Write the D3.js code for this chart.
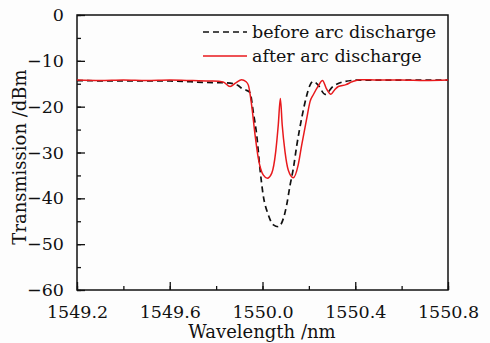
<!DOCTYPE html>
<html>
<head>
<meta charset="utf-8">
<script src="https://cdn.jsdelivr.net/npm/d3@7"></script>
<style>
  body { margin: 0; background: #fdfdfd; }
  svg text { font-family: "DejaVu Serif", serif; fill: #111; }
</style>
</head>
<body>
<svg id="chart" width="490" height="343"></svg>
<script>
// spectrum before arc discharge (wavelength nm, transmission dBm)
const beforeWl = [1549.2, 1549.4, 1549.6, 1549.75, 1549.84, 1549.874, 1549.895, 1549.91, 1549.93, 1549.946,
  1549.96, 1549.975, 1549.989, 1550.003, 1550.025, 1550.047, 1550.068, 1550.09, 1550.104, 1550.119,
  1550.133, 1550.148, 1550.169, 1550.191, 1550.205, 1550.219, 1550.24, 1550.27, 1550.304, 1550.356,
  1550.42, 1550.6, 1550.8];
const beforeDb = [-14.3, -14.4, -14.4, -14.7, -14.8, -15.0, -15.4, -16.0, -16.4, -16.9,
  -21.1, -26.2, -33.5, -39.3, -43.6, -45.8, -46.2, -44.4, -41.5, -37.1,
  -33.5, -28.4, -22.5, -17.5, -15.3, -14.5, -15.3, -17.3, -15.6, -14.5,
  -14.2, -14.2, -14.2];

// spectrum after arc discharge
const afterWl = [1549.2, 1549.3, 1549.4, 1549.5, 1549.6, 1549.7, 1549.78, 1549.83, 1549.86, 1549.885,
  1549.91, 1549.928, 1549.939, 1549.953, 1549.968, 1549.982, 1550.003, 1550.021, 1550.04, 1550.057,
  1550.068, 1550.077, 1550.085, 1550.097, 1550.111, 1550.133, 1550.154, 1550.169, 1550.191, 1550.205,
  1550.219, 1550.24, 1550.259, 1550.275, 1550.295, 1550.31, 1550.327, 1550.36, 1550.385, 1550.42,
  1550.5, 1550.6, 1550.7, 1550.8];
const afterDb = [-14.2, -14.3, -14.2, -14.3, -14.2, -14.3, -14.4, -14.6, -15.6, -14.8,
  -14.1, -14.5, -15.3, -19.6, -26.2, -31.3, -34.9, -35.6, -34.5, -29.8,
  -24.0, -18.2, -24.0, -29.8, -33.8, -35.5, -32.7, -28.4, -22.5, -18.9,
  -17.4, -15.5, -14.3, -16.0, -17.3, -16.4, -15.6, -15.2, -14.6, -14.1,
  -14.2, -14.2, -14.3, -14.2];

const xTicks = [1549.2, 1549.6, 1550.0, 1550.4, 1550.8];
const yTicks = [0, -10, -20, -30, -40, -50, -60];
const legendLabels = ["before arc discharge", "after arc discharge"];

const margin = { left: 77, right: 42, top: 15, bottom: 53 };
const width = 490, height = 343;

const svg = d3.select("#chart");

const x = d3.scaleLinear().domain([1549.2, 1550.8]).range([margin.left, width - margin.right]);
const y = d3.scaleLinear().domain([-60, 0]).range([height - margin.bottom, margin.top]);

// frame
svg.append("rect")
  .attr("x", margin.left).attr("y", margin.top)
  .attr("width", x.range()[1] - margin.left)
  .attr("height", y.range()[0] - margin.top)
  .attr("fill", "none").attr("stroke", "#111").attr("stroke-width", 1.5);

// bottom axis, ticks inward
const xMinor = d3.range(1549.2, 1550.81, 0.2);
svg.append("g")
  .attr("transform", "translate(0," + y(-60) + ")")
  .call(d3.axisBottom(x).tickValues(xMinor).tickSize(-4).tickFormat(""))
  .call(g => g.select(".domain").remove())
  .call(g => g.selectAll("line").attr("stroke", "#111").attr("stroke-width", 1.3));
svg.append("g")
  .attr("transform", "translate(0," + y(-60) + ")")
  .call(d3.axisBottom(x).tickValues(xTicks).tickSize(-8).tickPadding(16).tickFormat(d3.format(".1f")))
  .call(g => g.select(".domain").remove())
  .call(g => g.selectAll("line").attr("stroke", "#111").attr("stroke-width", 1.3))
  .call(g => g.selectAll("text").attr("font-size", 17.5).attr("font-family", "DejaVu Serif").attr("fill", "#111"));

// left axis
const yMinor = d3.range(-60, 0.1, 5);
svg.append("g")
  .attr("transform", "translate(" + margin.left + ",0)")
  .call(d3.axisLeft(y).tickValues(yMinor).tickSize(-4).tickFormat(""))
  .call(g => g.select(".domain").remove())
  .call(g => g.selectAll("line").attr("stroke", "#111").attr("stroke-width", 1.3));
svg.append("g")
  .attr("transform", "translate(" + margin.left + ",0)")
  .call(d3.axisLeft(y).tickValues(yTicks).tickSize(-8).tickPadding(13).tickFormat(d => d3.format("")(d).replace("-", "\u2212")))
  .call(g => g.select(".domain").remove())
  .call(g => g.selectAll("line").attr("stroke", "#111").attr("stroke-width", 1.3))
  .call(g => g.selectAll("text").attr("font-size", 17.5).attr("font-family", "DejaVu Serif").attr("fill", "#111"));

// axis titles
svg.append("text")
  .attr("x", 262).attr("y", 338)
  .attr("text-anchor", "middle").attr("font-size", 18)
  .text("Wavelength /nm");
svg.append("text")
  .attr("transform", "translate(26,157) rotate(-90)")
  .attr("text-anchor", "middle").attr("font-size", 18)
  .text("Transmission /dBm");

// curves
const line = d3.line()
  .x(d => x(d[0])).y(d => y(d[1]))
  .curve(d3.curveMonotoneX);

const plot = svg.append("g");
plot.append("path")
  .datum(beforeWl.map((w, i) => [w, beforeDb[i]]))
  .attr("d", line)
  .attr("fill", "none").attr("stroke", "#111")
  .attr("stroke-width", 1.7).attr("stroke-dasharray", "6,4");
plot.append("path")
  .datum(afterWl.map((w, i) => [w, afterDb[i]]))
  .attr("d", line)
  .attr("fill", "none").attr("stroke", "#e8191c")
  .attr("stroke-width", 1.5);

// legend
const legend = svg.append("g");
legendLabels.forEach((lbl, i) => {
  const ly = 32 + i * 24;
  legend.append("line")
    .attr("x1", 203).attr("x2", 247).attr("y1", ly).attr("y2", ly)
    .attr("stroke", i === 0 ? "#111" : "#e8191c")
    .attr("stroke-width", i === 0 ? 1.7 : 1.5)
    .attr("stroke-dasharray", i === 0 ? "6,4" : null);
  legend.append("text")
    .attr("x", 252).attr("y", ly + 6)
    .attr("font-size", 17.5)
    .text(lbl);
});
</script>
</body>
</html>
